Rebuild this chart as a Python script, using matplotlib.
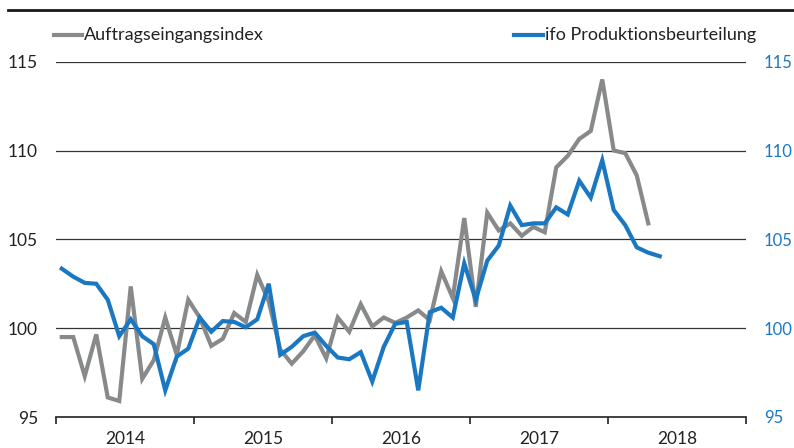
import numpy as np
import matplotlib.pyplot as plt
from matplotlib.lines import Line2D

plt.rcParams['font.family'] = ['Lato', 'DejaVu Sans']

# Monthly values, Jan 2014 onwards
auftragseingang = [
    99.5, 99.5, 97.3, 99.65, 96.1, 95.9, 102.35, 97.15, 98.2, 100.6, 98.5, 101.6,
    100.6, 99.0, 99.4, 100.85, 100.35, 103.0, 101.5, 98.8, 98.0, 98.7, 99.6, 98.3,
    100.6, 99.8, 101.35, 100.1, 100.6, 100.3, 100.6, 101.0, 100.45, 103.2, 101.7, 106.2,
    101.2, 106.5, 105.5, 105.9, 105.2, 105.7, 105.4, 109.05, 109.7, 110.65, 111.1, 114.0,
    110.0, 109.85, 108.6, 105.9,
]
ifo_produktion = [
    103.35, 102.9, 102.55, 102.5, 101.6, 99.55, 100.5, 99.55, 99.1, 96.5, 98.4, 98.85,
    100.6, 99.8, 100.4, 100.35, 100.05, 100.5, 102.5, 98.5, 98.95, 99.55, 99.75, 99.0,
    98.35, 98.25, 98.65, 97.0, 98.95, 100.25, 100.35, 96.5, 100.9, 101.15, 100.6, 103.65,
    101.6, 103.8, 104.65, 106.9, 105.8, 105.9, 105.9, 106.8, 106.4, 108.3, 107.35, 109.45,
    106.65, 105.8, 104.55, 104.25, 104.05,
]
years = ["2014", "2015", "2016", "2017", "2018"]
y_ticks = [95, 100, 105, 110, 115]

GRAY = "#87898a"
BLUE = "#1a78c2"
TEXT = "#222222"

fig = plt.figure(figsize=(7.94, 4.48), dpi=100)
ax = fig.add_axes([56 / 794, 1 - 417 / 448, 690 / 794, (417 - 61.7) / 448])
ax2 = ax.twinx()

ax.plot(np.arange(len(auftragseingang)), auftragseingang, color=GRAY, lw=3.0,
        solid_joinstyle="miter", zorder=3)
ax2.plot(np.arange(len(ifo_produktion)), ifo_produktion, color=BLUE, lw=3.0,
         solid_joinstyle="miter", zorder=3)

for a in (ax, ax2):
    a.set_xlim(-0.5, 59.5)
    a.set_ylim(95, 115)
    a.set_yticks(y_ticks)
    for s in a.spines.values():
        s.set_visible(False)

# horizontal gridlines
for v in y_ticks[1:]:
    ax.axhline(v, color="#333333", lw=0.9, zorder=1)
ax.spines["bottom"].set_visible(True)
ax.spines["bottom"].set_color("#222222")
ax.spines["bottom"].set_linewidth(1.2)

# year boundaries as major ticks, year names centred as minor ticks
ax.set_xticks(np.arange(-0.5, 60, 12))
ax.set_xticklabels([])
ax.set_xticks(np.arange(5.5, 60, 12), minor=True)
ax.set_xticklabels(years, minor=True)
ax.tick_params(axis="x", which="major", length=5, width=1.2, color="#222222", direction="out")
ax.tick_params(axis="x", which="minor", length=0, pad=10, labelsize=12.5, labelcolor=TEXT)

ax.tick_params(axis="y", length=0, pad=13, labelsize=12.5, labelcolor=TEXT)
ax2.tick_params(axis="y", length=0, pad=13, labelsize=12, labelcolor=BLUE)

# legend entries along the top
fig.add_artist(Line2D([54 / 794, 82 / 794], [1 - 35 / 448] * 2, color=GRAY, lw=3.0))
fig.text(84 / 794, 1 - 35 / 448, "Auftragseingangsindex", fontsize=13, color=TEXT,
         va="center", ha="left")
fig.add_artist(Line2D([514 / 794, 543 / 794], [1 - 35 / 448] * 2, color=BLUE, lw=3.0))
fig.text(545 / 794, 1 - 35 / 448, "ifo Produktionsbeurteilung", fontsize=13, color=TEXT,
         va="center", ha="left")

# rule at the top
fig.add_artist(Line2D([8 / 794, 1.0], [1 - 10 / 448] * 2, color="#1a1a1a", lw=2.0))

fig.savefig("out.png", dpi=100)
